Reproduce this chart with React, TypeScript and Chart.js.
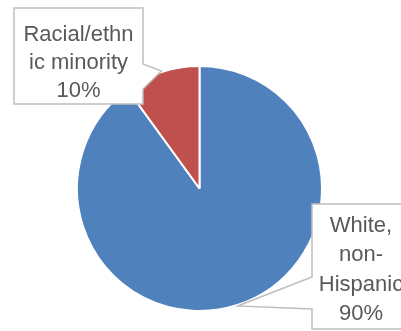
import React, { useEffect, useRef } from "react";
import { Chart, registerables } from "chart.js";

Chart.register(...registerables);

// ---- data ----
const categories = ["White, non-Hispanic", "Racial/ethnic minority"];
const values = [90, 10];
const colors = ["#4F81BD", "#C0504D"];
// wrapped label lines as shown in the callouts
const labelLines = [
  ["White,", "non-", "Hispanic"],
  ["Racial/ethn", "ic minority"],
];

// ---- callout layout (label boxes) ----
const calloutBoxes = [
  { left: 312, top: 204, right: 410, bottom: 329, side: "left", w1: 277, w2: 309, cx: 361, base: 232, lh: 29.4 },
  { left: 14, top: 8, right: 143, bottom: 104, side: "right", w1: 64, w2: 89, cx: 78.5, base: 41, lh: 28 },
];

const calloutPlugin = {
  id: "callouts",
  afterDatasetsDraw(chart: any) {
    const ctx = chart.ctx as CanvasRenderingContext2D;
    const meta = chart.getDatasetMeta(0);
    const total = values.reduce((a, b) => a + b, 0);
    meta.data.forEach((arc: any, i: number) => {
      const p = arc.getProps(["x", "y", "startAngle", "endAngle", "outerRadius"], true);
      const mid = (p.startAngle + p.endAngle) / 2;
      const tipX = p.x + Math.cos(mid) * (p.outerRadius + 1);
      const tipY = p.y + Math.sin(mid) * (p.outerRadius + 1);
      const b = calloutBoxes[i];
      ctx.save();
      ctx.beginPath();
      if (b.side === "left") {
        ctx.moveTo(b.left, b.top);
        ctx.lineTo(b.right, b.top);
        ctx.lineTo(b.right, b.bottom);
        ctx.lineTo(b.left, b.bottom);
        ctx.lineTo(b.left, b.w2);
        ctx.lineTo(tipX, tipY);
        ctx.lineTo(b.left, b.w1);
      } else {
        ctx.moveTo(b.left, b.top);
        ctx.lineTo(b.right, b.top);
        ctx.lineTo(b.right, b.w1);
        ctx.lineTo(tipX, tipY);
        ctx.lineTo(b.right, b.w2);
        ctx.lineTo(b.right, b.bottom);
        ctx.lineTo(b.left, b.bottom);
      }
      ctx.closePath();
      ctx.fillStyle = "#FFFFFF";
      ctx.fill();
      ctx.strokeStyle = "#BFBFBF";
      ctx.lineWidth = 1.5;
      ctx.lineJoin = "miter";
      ctx.stroke();

      const lines = [...labelLines[i], Math.round((values[i] / total) * 100) + "%"];
      ctx.fillStyle = "#595959";
      ctx.font = '22px "Liberation Sans", Arial, sans-serif';
      ctx.textAlign = "center";
      ctx.textBaseline = "alphabetic";
      lines.forEach((t, k) => ctx.fillText(t, b.cx, b.base + k * b.lh));
      ctx.restore();
    });
  },
};

export default function App() {
  const ref = useRef<HTMLCanvasElement>(null);
  useEffect(() => {
    if (!ref.current) return;
    const chart = new Chart(ref.current, {
      type: "pie",
      data: {
        labels: categories,
        datasets: [
          {
            data: values,
            backgroundColor: colors,
            borderColor: "#FFFFFF",
            borderWidth: 2,
          },
        ],
      },
      options: {
        responsive: false,
        animation: false,
        layout: { padding: { top: 65, bottom: 19, left: 76, right: 78 } },
        plugins: {
          legend: { display: false },
          tooltip: { enabled: false },
        },
      },
      plugins: [calloutPlugin],
    });
    return () => chart.destroy();
  }, []);
  return (
    <div style={{ position: "fixed", left: 0, top: 0, width: 401, height: 331, background: "#fff" }}>
      <canvas ref={ref} width={401} height={331} />
    </div>
  );
}
